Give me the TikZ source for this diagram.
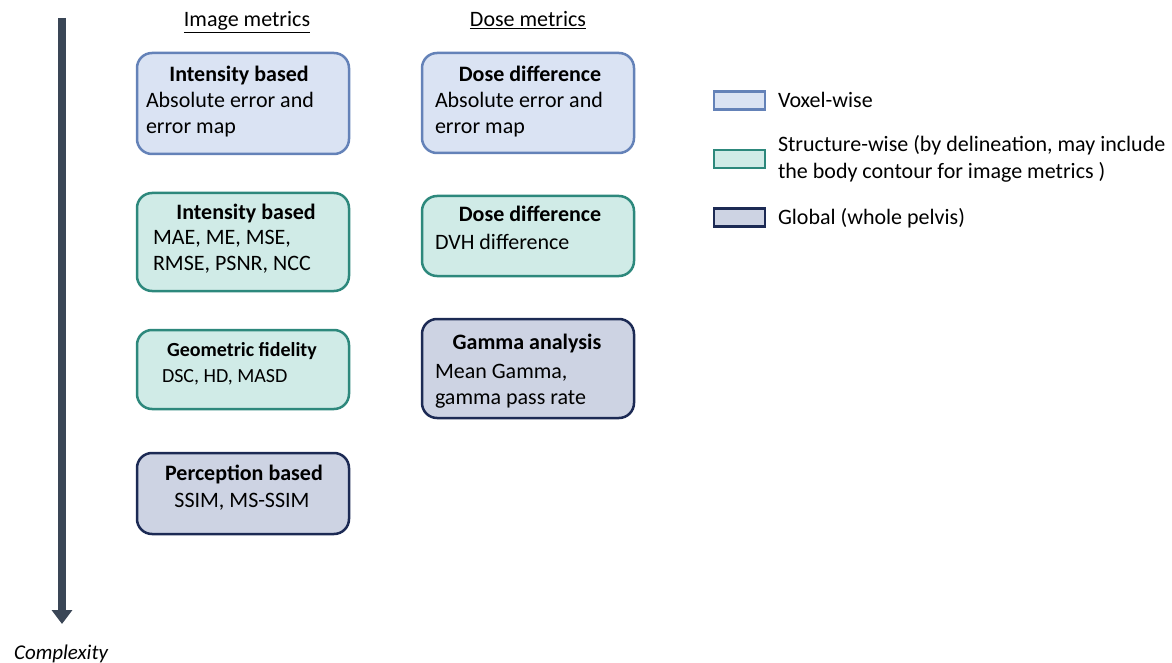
\documentclass[tikz,border=0pt]{standalone}
\usepackage{fontspec}
\setmainfont{Carlito}
\usetikzlibrary{arrows.meta}
\definecolor{voxfill}{HTML}{DAE3F3}
\definecolor{voxline}{HTML}{6482B8}
\definecolor{strfill}{HTML}{D0EBE7}
\definecolor{strline}{HTML}{2D887C}
\definecolor{glbfill}{HTML}{CDD3E3}
\definecolor{glbline}{HTML}{1C2A54}
\definecolor{axiscol}{HTML}{3A4656}
\begin{document}
\begin{tikzpicture}[x=1pt,y=-1pt,
  every node/.style={inner sep=0pt,outer sep=0pt,font=\fontsize{22pt}{27pt}\selectfont},
  metricbox/.style={draw,line width=2.5pt,rounded corners=15pt,minimum width=212pt},
  voxbox/.style={metricbox,fill=voxfill,draw=voxline},
  strbox/.style={metricbox,fill=strfill,draw=strline},
  glbbox/.style={metricbox,fill=glbfill,draw=glbline},
  keybox/.style={draw,line width=2.5pt,minimum width=51pt,minimum height=18pt},
  title/.style={anchor=base,font=\fontsize{22pt}{27pt}\selectfont\bfseries},
  smalltitle/.style={anchor=base,font=\fontsize{20pt}{24pt}\selectfont\bfseries},
  line/.style={anchor=base west},
  header/.style={anchor=base}]
\useasboundingbox (0,0) rectangle (1172,663);

% complexity axis
\coordinate (axtop) at (62,18);
\coordinate (axbot) at (62,624);
\draw[axiscol,line width=8pt,-{Triangle[width=20pt,length=14pt]}] (axtop) -- (axbot);
\node[anchor=base,font=\fontsize{21pt}{25pt}\selectfont\itshape] (cplx) at (61,659) {Complexity};

% column headers
\node[header] (himg) at (247,27) {\underline{Image metrics}};
\node[header] (hdose) at (528,27) {\underline{Dose metrics}};

% image metrics column
\node[voxbox,minimum height=101pt] (im1) at (243,103.5) {};
\node[title] (im1t) at (239,82) {Intensity based};
\node[line] (im1a) at (146,108) {Absolute error and};
\node[line] (im1b) at (146,134) {error map};

\node[strbox,minimum height=98pt] (im2) at (243,242) {};
\node[title] (im2t) at (246,219) {Intensity based};
\node[line] (im2a) at (153,244) {MAE, ME, MSE,};
\node[line] (im2b) at (153,270) {RMSE, PSNR, NCC};

\node[strbox,minimum height=79pt] (im3) at (243,369.5) {};
\node[smalltitle] (im3t) at (242,356) {Geometric fidelity};
\node[line,font=\fontsize{20pt}{24pt}\selectfont] (im3a) at (162,382) {DSC, HD, MASD};

\node[glbbox,minimum height=81pt] (im4) at (243,493.5) {};
\node[title] (im4t) at (244,480) {Perception based};
\node[header] (im4a) at (242,507) {SSIM, MS-SSIM};

% dose metrics column
\node[voxbox,minimum height=100pt] (ds1) at (528,103) {};
\node[title] (ds1t) at (530,82) {Dose difference};
\node[line] (ds1a) at (435,108) {Absolute error and};
\node[line] (ds1b) at (435,134) {error map};

\node[strbox,minimum height=80pt] (ds2) at (528,236) {};
\node[title] (ds2t) at (530,222) {Dose difference};
\node[line] (ds2a) at (435,249) {DVH difference};

\node[glbbox,minimum height=99pt] (ds3) at (528,368.5) {};
\node[title] (ds3t) at (527,349) {Gamma analysis};
\node[line] (ds3a) at (435,378) {Mean Gamma,};
\node[line] (ds3b) at (435,404) {gamma pass rate};

% legend
\node[keybox,fill=voxfill,draw=voxline] (kvox) at (739.5,100.5) {};
\node[line] (kvoxt) at (778,108) {Voxel-wise};
\node[keybox,fill=strfill,draw=strline] (kstr) at (739.5,159) {};
\node[line] (kstrt) at (778,152) {Structure-wise (by delineation, may include};
\node[line] (kstrb) at (778,179) {the body contour for image metrics )};
\node[keybox,fill=glbfill,draw=glbline] (kglb) at (739.5,217.5) {};
\node[line] (kglbt) at (778,225) {Global (whole pelvis)};
\end{tikzpicture}
\end{document}
